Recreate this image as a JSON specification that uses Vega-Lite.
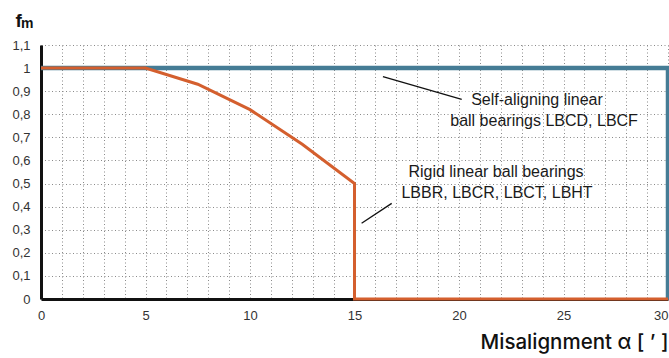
{
  "$schema": "https://vega.github.io/schema/vega-lite/v6.json",
  "width": 627,
  "height": 254,
  "autosize": {"type": "none"},
  "padding": {"left": 41, "top": 45, "right": 1, "bottom": 59},
  "background": "white",
  "config": {
    "view": {"stroke": null},
    "font": "Liberation Sans",
    "axis": {
      "gridColor": "#8a8a8a",
      "gridDash": [1, 2.5],
      "gridWidth": 1,
      "gridOpacity": 1,
      "ticks": false,
      "labelColor": "#333333",
      "labelFontSize": 13,
      "labelFont": "Liberation Sans",
      "domainColor": "#111111",
      "domainWidth": 3
    }
  },
  "datasets": {
    "curves": [
      {"series": "self", "ord": 1, "x": 0, "y": 1},
      {"series": "self", "ord": 2, "x": 30, "y": 1},
      {"series": "self", "ord": 3, "x": 30, "y": 0},
      {"series": "rigid", "ord": 1, "x": 0, "y": 1},
      {"series": "rigid", "ord": 2, "x": 5, "y": 1},
      {"series": "rigid", "ord": 3, "x": 7.5, "y": 0.93},
      {"series": "rigid", "ord": 4, "x": 10, "y": 0.82},
      {"series": "rigid", "ord": 5, "x": 12.5, "y": 0.67},
      {"series": "rigid", "ord": 6, "x": 15, "y": 0.5},
      {"series": "rigid", "ord": 7, "x": 15, "y": 0},
      {"series": "rigid", "ord": 8, "x": 30, "y": 0}
    ],
    "pointers": [
      {"x": 16.36, "y": 0.963, "x2": 20.13, "y2": 0.865},
      {"x": 16.78, "y": 0.414, "x2": 15.34, "y2": 0.328}
    ],
    "labels": [
      {"x": 23.73, "y": 0.862, "label": "Self-aligning linear"},
      {"x": 24.07, "y": 0.771, "label": "ball bearings LBCD, LBCF"},
      {"x": 21.77, "y": 0.551, "label": "Rigid linear ball bearings"},
      {"x": 21.82, "y": 0.458, "label": "LBBR, LBCR, LBCT, LBHT"}
    ],
    "subscript": [
      {"x": -0.96, "y": 1.174, "label": "m"}
    ]
  },
  "encoding": {
    "x": {
      "field": "x", "type": "quantitative",
      "scale": {"domain": [0, 30], "nice": false, "zero": false},
      "axis": {
        "values": [0,1,2,3,4,5,6,7,8,9,10,11,12,13,14,15,16,17,18,19,20,21,22,23,24,25,26,27,28,29,30],
        "labelExpr": "datum.value % 5 == 0 ? datum.value : ''",
        "labelAlign": {"expr": "datum.value == 30 ? 'right' : 'center'"},
        "labelPadding": 10,
        "labelFlush": false,
        "labelOverlap": false,
        "title": "Misalignment α [ ’ ]",
        "titleAlign": "right",
        "titleAnchor": "end",
        "titleBaseline": "alphabetic",
        "titleX": 627,
        "titleY": 49,
        "titleFont": "Inter",
        "titleFontSize": 20.5,
        "titleFontWeight": 500,
        "titleColor": "#111111"
      }
    },
    "y": {
      "field": "y", "type": "quantitative",
      "scale": {"domain": [0, 1.1], "nice": false},
      "axis": {
        "values": [0, 0.1, 0.2, 0.3, 0.4, 0.5, 0.6, 0.7, 0.8, 0.9, 1, 1.1],
        "labelExpr": "replace(toString(datum.value), '.', ',')",
        "labelPadding": 11,
        "labelFlush": false,
        "labelOverlap": false,
        "title": "f",
        "titleAngle": 0,
        "titleAlign": "left",
        "titleBaseline": "alphabetic",
        "titleX": -26,
        "titleY": -19,
        "titleFont": "Liberation Sans",
        "titleFontSize": 19,
        "titleFontWeight": "bold",
        "titleColor": "#111111"
      }
    }
  },
  "layer": [
    {
      "data": {"name": "curves"},
      "mark": {"type": "line", "strokeJoin": "miter", "strokeCap": "butt"},
      "encoding": {
        "order": {"field": "ord", "type": "quantitative"},
        "detail": {"field": "series"},
        "color": {
          "field": "series", "type": "nominal",
          "scale": {"domain": ["self", "rigid"], "range": ["#457c95", "#d45f2e"]},
          "legend": null
        },
        "strokeWidth": {
          "field": "series", "type": "nominal",
          "scale": {"domain": ["self", "rigid"], "range": [4.5, 3]},
          "legend": null
        }
      }
    },
    {
      "data": {"name": "pointers"},
      "mark": {"type": "rule", "color": "#111111", "strokeWidth": 1.3},
      "encoding": {
        "x2": {"field": "x2"},
        "y2": {"field": "y2"}
      }
    },
    {
      "data": {"name": "labels"},
      "mark": {"type": "text", "align": "center", "baseline": "middle", "fontSize": 16, "color": "#1a1a1a", "font": "Liberation Sans"},
      "encoding": {
        "text": {"field": "label"}
      }
    },
    {
      "data": {"name": "subscript"},
      "mark": {"type": "text", "align": "left", "baseline": "alphabetic", "fontSize": 14, "fontWeight": "bold", "color": "#111111", "font": "Liberation Sans"},
      "encoding": {
        "text": {"field": "label"}
      }
    }
  ]
}
